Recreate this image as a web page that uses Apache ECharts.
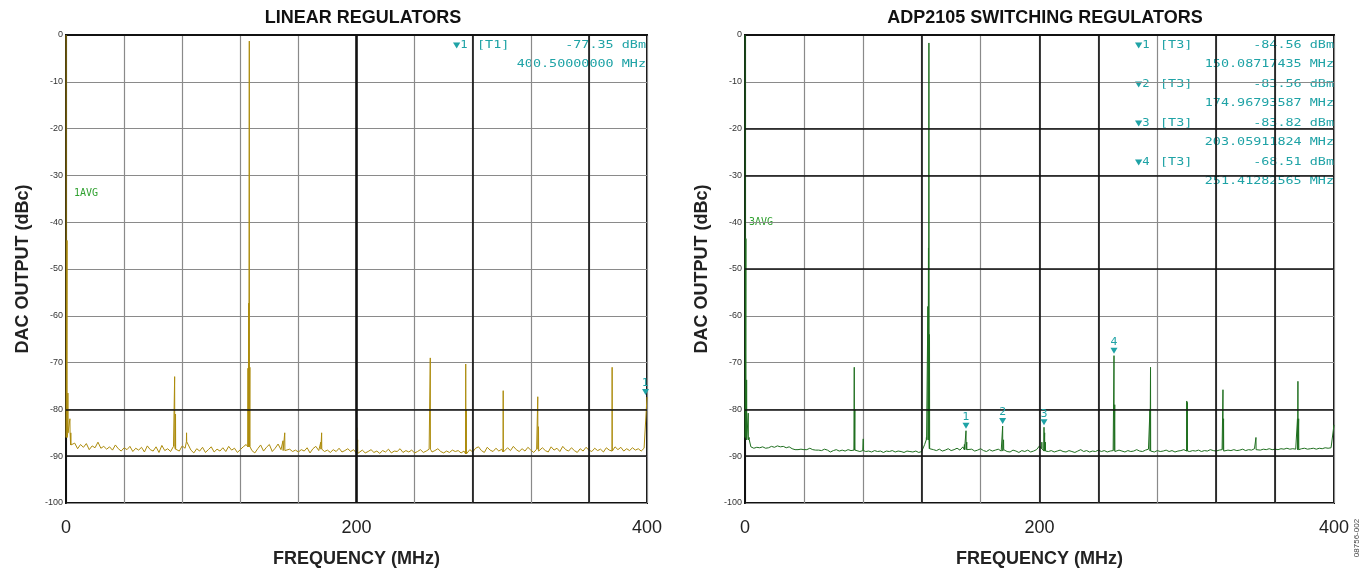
<!DOCTYPE html>
<html>
<head>
<meta charset="utf-8">
<script src="https://cdn.jsdelivr.net/npm/echarts@6/dist/echarts.min.js"></script>
<style>html,body{margin:0;padding:0;background:#fff}#c{width:1368px;height:571px}</style>
</head>
<body>
<div id="c"></div>
<script>
// ---------- DATA ----------
const titles = ['LINEAR REGULATORS', 'ADP2105 SWITCHING REGULATORS'];
const noiseStep = 2; // MHz between noise-floor readings (0..400)
const linearNoise = [
 -86.0,-85.0,-87.6,-87.2,-88.4,-87.5,-88.1,-87.3,-88.6,-87.8,
 -88.2,-87.0,-88.3,-87.9,-88.5,-88.0,-88.7,-87.6,-88.4,-88.9,
 -88.2,-88.6,-87.9,-89.0,-88.3,-88.7,-88.1,-89.1,-87.8,-88.6,
 -88.9,-88.0,-89.2,-87.7,-88.8,-88.4,-89.0,-87.9,-88.5,-88.9,
 -87.8,-88.3,-86.9,-88.7,-89.3,-88.4,-88.9,-88.1,-89.2,-88.6,
 -88.0,-89.1,-88.5,-88.9,-88.2,-89.0,-87.9,-88.7,-88.3,-89.2,
 -88.6,-88.0,-87.5,-88.0,-88.8,-89.3,-88.4,-87.6,-88.9,-88.1,
 -87.5,-89.0,-88.3,-87.4,-88.6,-88.8,-89.2,-88.5,-89.0,-88.7,
 -89.1,-88.6,-88.9,-88.2,-89.3,-88.4,-87.9,-88.8,-88.5,-89.0,
 -88.7,-89.2,-88.6,-89.0,-88.3,-89.1,-88.8,-88.4,-89.0,-88.6,
 -89.4,-89.8,-88.7,-89.3,-89.0,-88.6,-89.2,-88.9,-89.4,-88.8,
 -89.1,-88.5,-89.3,-88.9,-89.0,-88.4,-89.2,-88.8,-89.1,-88.7,
 -89.3,-89.0,-88.6,-89.2,-88.9,-88.5,-89.1,-88.8,-88.4,-89.0,
 -89.3,-88.9,-89.2,-88.7,-89.0,-88.8,-89.3,-88.9,-89.5,-88.6,
 -89.1,-88.3,-88.0,-88.8,-89.2,-88.1,-88.7,-89.0,-88.3,-88.9,
 -88.5,-89.1,-88.2,-88.8,-87.9,-88.6,-89.0,-88.4,-88.9,-88.1,
 -88.7,-89.2,-88.5,-88.9,-88.2,-88.8,-89.1,-88.0,-88.7,-88.3,
 -89.0,-87.9,-88.6,-88.9,-88.2,-88.8,-89.2,-88.4,-88.9,-88.1,
 -88.7,-89.0,-88.3,-88.8,-88.5,-89.1,-88.2,-88.7,-88.9,-88.0,
 -88.6,-88.1,-88.9,-88.4,-88.8,-88.2,-88.7,-88.4,-88.9,-88.3,
 -77.35
];
const linearSpikeFreq = [0.05, 0.7, 1.3, 2.7, 3.3, 74.8, 75.4, 83.0, 125.3, 125.8, 126.2, 126.6, 149.4, 150.6, 175.4, 176.0, 200.2, 200.8, 250.8, 275.2, 275.6, 301.0, 324.8, 325.3, 376.0];
const linearSpikeVal  = [0, -43.9, -76.5, -82.0, -85.0, -73.0, -81.0, -85.0, -71.2, -57.3, -1.3, -71.0, -86.7, -85.0, -87.0, -85.0, -83.9, -86.5, -69.0, -70.3, -80.0, -76.0, -77.3, -83.7, -71.0];

const switchingNoise = [
 -86.0,-86.5,-88.0,-88.3,-88.1,-88.2,-88.0,-88.3,-88.2,-87.9,
 -88.1,-87.8,-88.0,-87.9,-88.2,-88.0,-88.4,-88.6,-88.6,-88.5,
 -88.6,-88.6,-88.3,-88.6,-88.7,-88.7,-88.8,-88.5,-88.7,-89.1,
 -88.8,-88.6,-88.9,-88.7,-88.9,-88.6,-88.8,-88.7,-88.9,-89.0,
 -88.8,-89.0,-88.9,-89.1,-88.8,-89.0,-88.9,-89.2,-88.9,-89.0,
 -88.8,-89.1,-88.9,-89.0,-89.2,-88.9,-89.0,-89.1,-88.9,-89.2,
 -89.0,-87.5,-86.5,-88.4,-88.6,-88.8,-88.5,-88.9,-88.7,-88.4,
 -88.8,-88.6,-88.3,-88.7,-88.0,-88.6,-88.8,-88.5,-88.9,-88.7,
 -88.4,-88.8,-89.0,-88.6,-88.9,-88.7,-88.5,-88.9,-88.6,-89.0,
 -89.1,-88.7,-88.9,-89.2,-88.8,-89.0,-88.7,-89.1,-88.9,-88.6,
 -87.8,-88.4,-88.9,-89.0,-88.8,-89.1,-88.9,-88.7,-89.0,-89.1,
 -88.8,-89.0,-89.2,-88.9,-88.6,-89.0,-88.8,-89.1,-88.9,-89.0,
 -88.7,-89.0,-88.8,-89.1,-88.9,-88.8,-89.0,-88.7,-88.9,-89.1,
 -88.8,-89.0,-88.9,-88.6,-88.9,-89.0,-88.7,-88.5,-88.9,-89.1,
 -88.8,-89.0,-88.9,-88.7,-89.0,-88.8,-89.1,-88.9,-88.8,-88.6,
 -88.9,-89.0,-88.8,-88.9,-88.7,-89.0,-88.8,-88.9,-88.6,-88.8,
 -88.9,-88.7,-88.6,-88.9,-88.7,-88.8,-88.6,-88.8,-88.7,-88.5,
 -88.8,-88.6,-88.7,-88.4,-88.6,-88.7,-88.5,-88.6,-88.4,-88.6,
 -88.5,-88.6,-88.4,-88.5,-88.3,-88.5,-88.4,-88.5,-88.6,-88.4,
 -88.3,-88.5,-88.4,-88.3,-88.5,-88.3,-88.4,-88.2,-88.3,-88.2,
 -83.3
];
const switchingSpikeFreq = [0.05, 0.6, 1.1, 2.2, 2.8, 74.2, 74.6, 80.3, 123.2, 124.2, 124.6, 124.9, 125.3, 149.0, 150.09, 150.6, 174.97, 175.6, 201.6, 203.06, 203.5, 204.0, 250.6, 251.1, 275.0, 275.4, 300.0, 300.4, 324.6, 325.0, 347.0, 375.2, 375.5, 376.0];
const switchingSpikeVal  = [0, -43.5, -73.7, -80.8, -86.0, -71.0, -80.0, -86.3, -86.0, -58.0, -45.5, -1.7, -64.0, -87.5, -84.56, -87.0, -83.56, -86.5, -87.0, -83.82, -85.0, -87.0, -68.51, -79.0, -80.0, -71.0, -78.2, -78.5, -75.8, -82.0, -86.0, -82.0, -74.0, -82.0];

// markers
const linearMarkers = [{ label: '1', freq: 399.0, val: -77.35 }];
const switchingMarkerIdx = [14, 16, 19, 22];
const switchingMarkerLabels = ['1', '2', '3', '4'];

const linearReadout = [['1', '[T1]', '-77.35 dBm'], ['', '', '400.50000000 MHz']];
const switchingReadout = [
  ['1', '[T3]', '-84.56 dBm'], ['', '', '150.08717435 MHz'],
  ['2', '[T3]', '-83.56 dBm'], ['', '', '174.96793587 MHz'],
  ['3', '[T3]', '-83.82 dBm'], ['', '', '203.05911824 MHz'],
  ['4', '[T3]', '-68.51 dBm'], ['', '', '251.41282565 MHz']
];
const traceTags = ['1AVG', '3AVG'];
const xTickLabels = [0, 200, 400];

// ---------- BUILD ----------
function buildTrace(noise, sf, sv) {
  const pts = noise.map((v, i) => [i * noiseStep, v]);
  const floorAt = f => noise[Math.min(noise.length - 1, Math.max(0, Math.round(f / noiseStep)))];
  for (let k = 0; k < sf.length; k++) {
    const f = sf[k], b = floorAt(f);
    if (f > 0.1) pts.push([f - 0.1, b]);
    pts.push([f, sv[k]]);
    pts.push([f + 0.1, b]);
  }
  pts.sort((a, b) => a[0] - b[0]);
  return pts.filter(p => !(p[0] === 0 && p[1] !== 0));
}

const chart = echarts.init(document.getElementById('c'), null, { renderer: 'canvas' });
const cyan = '#1fa3a6';
const grids = [
  { left: 66, top: 35, width: 581, height: 468 },
  { left: 745, top: 35, width: 589, height: 468 }
];
const darkX = [[200, 280, 360], [120, 200, 240, 320, 360]];
const darkY = [[-80, -90], [-20, -30, -50, -80, -90]];
const bold18 = { fontFamily: 'Liberation Sans', fontWeight: 'bold', fontSize: 18, color: '#222' };

function xAxis(gi) {
  return {
    gridIndex: gi, type: 'value', min: 0, max: 400, interval: 40,
    name: 'FREQUENCY (MHz)', nameLocation: 'middle', nameGap: 47,
    nameTextStyle: bold18,
    axisLine: { show: true, lineStyle: { color: '#111', width: 2 } },
    axisTick: { show: false },
    axisLabel: { margin: 16, fontFamily: 'Liberation Sans', fontSize: 18, color: '#222',
      formatter: v => xTickLabels.indexOf(v) >= 0 ? String(v) : '' },
    splitLine: { show: true, lineStyle: { color: '#8a8a8a', width: 1.2 } }
  };
}
function yAxis(gi) {
  return {
    gridIndex: gi, type: 'value', min: -100, max: 0, interval: 10,
    name: 'DAC OUTPUT (dBc)', nameLocation: 'middle', nameGap: 34,
    nameTextStyle: bold18,
    axisLine: { show: true, lineStyle: { color: '#111', width: 2 } },
    axisTick: { show: false },
    axisLabel: { margin: 3, fontFamily: 'Liberation Sans', fontSize: 9, color: '#333' },
    splitLine: { show: true, lineStyle: { color: '#8a8a8a', width: 1.2 } }
  };
}
function gridLines(gi) {
  const d = [];
  darkX[gi].forEach(x => d.push({ xAxis: x, lineStyle: { color: '#111', width: x === 200 && gi === 0 ? 2.6 : 1.6, type: 'solid' } }));
  darkY[gi].forEach(y => d.push({ yAxis: y, lineStyle: { color: '#111', width: 1.6, type: 'solid' } }));
  return {
    type: 'line', xAxisIndex: gi, yAxisIndex: gi, data: [], z: 1, silent: true,
    markLine: { silent: true, symbol: ['none', 'none'], label: { show: false }, animation: false, data: d }
  };
}
function markerPts(list) {
  return {
    symbol: 'triangle', symbolRotate: 180, symbolSize: [7, 6], symbolOffset: [0, -5], silent: true,
    itemStyle: { color: cyan },
    label: { show: true, position: 'top', distance: 0, color: cyan, fontFamily: 'DejaVu Sans', fontSize: 11, formatter: p => p.name },
    data: list
  };
}

const linData = buildTrace(linearNoise, linearSpikeFreq, linearSpikeVal);
const swData = buildTrace(switchingNoise, switchingSpikeFreq, switchingSpikeVal);

const graphics = [];
function readout(rows, x1, x2, xr, y0, dy) {
  rows.forEach((r, i) => {
    const y = y0 + i * dy;
    const st = { fontFamily: 'DejaVu Sans Mono', fontSize: 11, fill: cyan, textVerticalAlign: 'middle' };
    if (r[0]) graphics.push({ type: 'text', x: x1, y: y, scaleX: 1.22, style: Object.assign({}, st, { text: '▼' + r[0], fontSize: 10 }) });
    if (r[1]) graphics.push({ type: 'text', x: x2, y: y, scaleX: 1.22, style: Object.assign({}, st, { text: r[1] }) });
    graphics.push({ type: 'text', x: xr, y: y, scaleX: 1.22, style: Object.assign({}, st, { text: r[2], textAlign: 'right' }) });
  });
}
readout(linearReadout, 453, 477, 646, 45, 19);
readout(switchingReadout, 1135, 1160, 1334, 45, 19.5);
graphics.push({ type: 'text', x: 74, y: 193, style: { text: traceTags[0], fontFamily: 'DejaVu Sans Mono', fontSize: 10, fill: '#2fa02f', textVerticalAlign: 'middle' } });
graphics.push({ type: 'text', x: 749, y: 222, style: { text: traceTags[1], fontFamily: 'DejaVu Sans Mono', fontSize: 10, fill: '#2fa02f', textVerticalAlign: 'middle' } });
graphics.push({ type: 'text', x: 1357, y: 538, rotation: Math.PI / 2, style: { text: '08756-002', fontFamily: 'Liberation Sans', fontSize: 8, fill: '#444', textAlign: 'center', textVerticalAlign: 'middle' } });

chart.setOption({
  animation: false,
  backgroundColor: '#fff',
  title: [
    { text: titles[0], left: 358, top: 4, textAlign: 'center', textStyle: { fontFamily: 'Liberation Sans', fontWeight: 'bold', fontSize: 18, color: '#111' } },
    { text: titles[1], left: 1040, top: 4, textAlign: 'center', textStyle: { fontFamily: 'Liberation Sans', fontWeight: 'bold', fontSize: 18, color: '#111' } }
  ],
  grid: grids.map(g => Object.assign({ show: true, borderColor: '#111', borderWidth: 2, backgroundColor: 'transparent', containLabel: false, outerBoundsMode: 'none' }, g)),
  xAxis: [xAxis(0), xAxis(1)],
  yAxis: [yAxis(0), yAxis(1)],
  series: [
    gridLines(0), gridLines(1),
    {
      type: 'line', xAxisIndex: 0, yAxisIndex: 0, data: linData, showSymbol: false, z: 3,
      lineStyle: { color: '#ad8c0c', width: 1 }, clip: false,
      markPoint: markerPts(linearMarkers.map(m => ({ name: m.label, coord: [m.freq, m.val] })))
    },
    {
      type: 'line', xAxisIndex: 1, yAxisIndex: 1, data: swData, showSymbol: false, z: 3,
      lineStyle: { color: '#1f6f1f', width: 1 }, clip: false,
      markPoint: markerPts(switchingMarkerIdx.map((k, i) => ({ name: switchingMarkerLabels[i], coord: [switchingSpikeFreq[k], switchingSpikeVal[k]] })))
    }
  ],
  graphic: graphics
});
</script>
</body>
</html>
